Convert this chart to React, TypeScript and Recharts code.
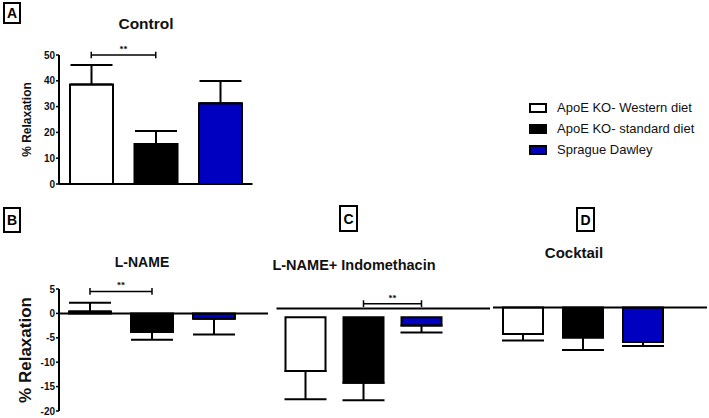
import React from 'react';
import { BarChart, Bar, XAxis, YAxis, Cell, ErrorBar, ReferenceLine } from 'recharts';

// groups (legend order) and their fills
const groups = ['ApoE KO- Western diet', 'ApoE KO- standard diet', 'Sprague Dawley'];
const groupFills = ['#ffffff', '#000000', '#0000c0'];

// A: Control
const controlMean = [38.6, 15.5, 31.3];
const controlSem = [7.5, 5.0, 8.6];
const controlTicks = [0, 10, 20, 30, 40, 50];

// B: L-NAME
const lnameMean = [0.4, -3.8, -1.1];
const lnameSem = [1.8, 1.6, 3.2];
const relaxTicks = [5, 0, -5, -10, -15, -20];

// C: L-NAME + Indomethacin (bars hang from just under the line)
const indoMean = [-11.8, -14.2, -2.5];
const indoSem = [5.8, 3.6, 1.4];
const indoBase = -0.8;
const indoLine = 1.0;

// D: Cocktail
const cocktailMean = [-4.2, -4.95, -5.85];
const cocktailSem = [1.35, 2.55, 0.85];
const cocktailBase = 1.2;

const FONT = 'Arial, "Liberation Sans", sans-serif';

const buildRows = (mean: number[], sem: number[], base = 0) =>
  groups.map((g, i) => ({
    group: g,
    value: base === 0 ? mean[i] : [base, mean[i]],
    err: mean[i] >= base ? [0, sem[i]] : [sem[i], 0],
  }));

const tickStyle = { fontSize: 10, fontWeight: 'bold', fill: '#111', fontFamily: FONT };

const Bars = ({ size }: { size: number }) => (
  <Bar dataKey="value" barSize={size} stroke="#000" strokeWidth={2} isAnimationActive={false}>
    {groups.map((g, i) => (
      <Cell key={g} fill={groupFills[i]} />
    ))}
    <ErrorBar dataKey="err" direction="y" width={21} stroke="#000" strokeWidth={2} />
  </Bar>
);

// significance bracket between two groups
const bracket = (a: string, b: string, y: number, h: number) => [
  <ReferenceLine
    key="h"
    segment={[{ x: a, y }, { x: b, y }]}
    stroke="#000"
    strokeWidth={1.5}
    ifOverflow="visible"
    label={{ value: '**', position: 'top', offset: 3, fontSize: 8, fontWeight: 'bold', fill: '#000' }}
  />,
  <ReferenceLine key="l" segment={[{ x: a, y: y - h }, { x: a, y: y + h }]} stroke="#000" strokeWidth={1.5} ifOverflow="visible" />,
  <ReferenceLine key="r" segment={[{ x: b, y: y - h }, { x: b, y: y + h }]} stroke="#000" strokeWidth={1.5} ifOverflow="visible" />,
];

const PanelTag = ({ text, left, top, w, h }: { text: string; left: number; top: number; w: number; h: number }) => (
  <div
    style={{
      position: 'absolute', left, top, width: w, height: h, boxSizing: 'border-box',
      border: '2px solid #000', fontFamily: FONT, fontWeight: 'bold', fontSize: 14,
      display: 'flex', alignItems: 'center', justifyContent: 'center',
    }}
  >
    {text}
  </div>
);

const Title = ({ text, cx, top, size }: { text: string; cx: number; top: number; size: number }) => (
  <div
    style={{
      position: 'absolute', left: cx - 120, top, width: 240, textAlign: 'center',
      fontFamily: FONT, fontWeight: 'bold', fontSize: size, lineHeight: 1, color: '#111',
    }}
  >
    {text}
  </div>
);

export default function App() {
  const controlRows = buildRows(controlMean, controlSem);
  const lnameRows = buildRows(lnameMean, lnameSem);
  const indoRows = buildRows(indoMean, indoSem, indoBase);
  const cocktailRows = buildRows(cocktailMean, cocktailSem, cocktailBase);

  return (
    <div style={{ position: 'absolute', left: 0, top: 0, width: 709, height: 418, overflow: 'hidden', background: '#fff' }}>
      <PanelTag text="A" left={3} top={2} w={18} h={22} />
      <PanelTag text="B" left={3} top={207} w={18} h={26} />
      <PanelTag text="C" left={339} top={205} w={19} h={27} />
      <PanelTag text="D" left={576} top={207} w={19} h={25} />

      <Title text="Control" cx={146} top={16} size={15.5} />
      <Title text="L-NAME" cx={142} top={255} size={14} />
      <Title text="L-NAME+ Indomethacin" cx={354} top={258} size={14.5} />
      <Title text="Cocktail" cx={574} top={245} size={15} />

      <div style={{ position: 'absolute', left: 0, top: 0 }}>
        <BarChart width={260} height={200} data={controlRows} margin={{ top: 55, right: 7.5, bottom: 16, left: 0 }}>
          <XAxis dataKey="group" hide />
          <YAxis
            domain={[0, 50]}
            ticks={controlTicks}
            width={59}
            interval={0}
            axisLine={{ stroke: '#000', strokeWidth: 2 }}
            tickLine={{ stroke: '#000', strokeWidth: 1.5 }}
            tickSize={3}
            tickMargin={1}
            tick={tickStyle}
            label={{
              value: '% Relaxation', angle: -90, position: 'insideLeft', offset: 27,
              style: { textAnchor: 'middle', fontSize: 12, fontWeight: 'bold', fill: '#111', fontFamily: FONT },
            }}
          />
          <ReferenceLine y={0} stroke="#000" strokeWidth={2} />
          {Bars({ size: 43 })}
          {bracket(groups[0], groups[1], 50, 1.3)}
        </BarChart>
      </div>

      <div style={{ position: 'absolute', left: 0, top: 240 }}>
        <BarChart width={270} height={178} data={lnameRows} margin={{ top: 49, right: 2, bottom: 7, left: 0 }}>
          <XAxis dataKey="group" hide padding={{ left: 0, right: 23 }} />
          <YAxis
            domain={[-20, 5]}
            ticks={relaxTicks}
            width={59}
            interval={0}
            axisLine={{ stroke: '#000', strokeWidth: 2 }}
            tickLine={{ stroke: '#000', strokeWidth: 1.5 }}
            tickSize={3}
            tickMargin={1}
            tick={tickStyle}
            label={{
              value: '% Relaxation', angle: -90, position: 'insideLeft', offset: 25,
              style: { textAnchor: 'middle', fontSize: 17, fontWeight: 'bold', fill: '#111', fontFamily: FONT },
            }}
          />
          <ReferenceLine y={0} stroke="#000" strokeWidth={2} />
          {Bars({ size: 42 })}
          {bracket(groups[0], groups[1], 4.5, 0.7)}
        </BarChart>
      </div>

      <div style={{ position: 'absolute', left: 256, top: 240 }}>
        <BarChart width={240} height={178} data={indoRows} margin={{ top: 49, right: 6, bottom: 7, left: 20.5 }}>
          <XAxis dataKey="group" hide padding={{ left: 0, right: 39.5 }} />
          <YAxis hide domain={[-20, 5]} />
          <ReferenceLine y={indoLine} stroke="#000" strokeWidth={2} />
          {Bars({ size: 40 })}
          {bracket(groups[1], groups[2], 2.0, 0.7)}
        </BarChart>
      </div>

      <div style={{ position: 'absolute', left: 480, top: 240 }}>
        <BarChart width={229} height={178} data={cocktailRows} margin={{ top: 49, right: 2, bottom: 7, left: 13 }}>
          <XAxis dataKey="group" hide padding={{ left: 0, right: 34 }} />
          <YAxis hide domain={[-20, 5]} />
          <ReferenceLine y={cocktailBase} stroke="#000" strokeWidth={2} />
          {Bars({ size: 40 })}
        </BarChart>
      </div>

      <div style={{ position: 'absolute', left: 529, top: 97, fontFamily: FONT, fontSize: 13, color: '#111' }}>
        {groups.map((g, i) => (
          <div key={g} style={{ display: 'flex', alignItems: 'center', height: 21 }}>
            <div
              style={{
                width: 18, height: 10, boxSizing: 'border-box', border: '2px solid #000',
                background: groupFills[i], marginRight: 10,
              }}
            />
            <span>{g}</span>
          </div>
        ))}
      </div>
    </div>
  );
}
